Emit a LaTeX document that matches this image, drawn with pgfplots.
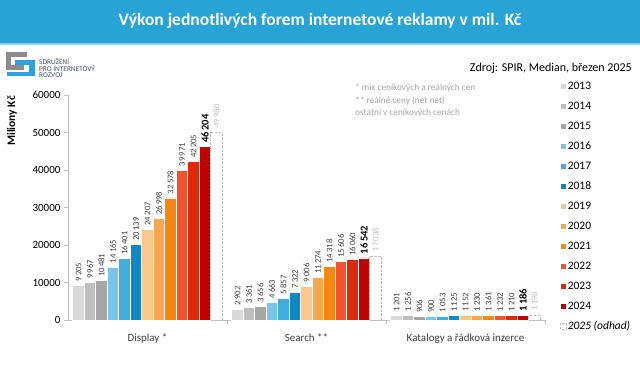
\documentclass[border=0pt]{standalone}
\usepackage{pgfplots}
\pgfplotsset{compat=1.18}
\usepackage{pgfplotstable}
\usepackage{fontspec}
\setmainfont{Carlito}
\definecolor{banner}{HTML}{27A3D6}
\definecolor{bannerlt}{HTML}{8FD0EE}
\definecolor{axgray}{HTML}{BFBFBF}
\definecolor{labgray}{HTML}{404040}
\definecolor{notegray}{HTML}{A6A6A6}
\definecolor{c13}{HTML}{D9D9D9}
\definecolor{c14}{HTML}{BFBFBF}
\definecolor{c15}{HTML}{A6A6A6}
\definecolor{c16}{HTML}{75C6EA}
\definecolor{c17}{HTML}{41ADDD}
\definecolor{c18}{HTML}{0E88C4}
\definecolor{c19}{HTML}{FBC78C}
\definecolor{c20}{HTML}{F9A64E}
\definecolor{c21}{HTML}{F7870F}
\definecolor{c22}{HTML}{F2532C}
\definecolor{c23}{HTML}{DC2A0A}
\definecolor{c24}{HTML}{BE0000}
\definecolor{logogray}{HTML}{8C8C8C}
\definecolor{logoblue}{HTML}{2EA3DB}
\definecolor{logotext}{HTML}{44546A}

\pgfplotstableread{
x a13 a14 a15 a16 a17 a18 a19 a20 a21 a22 a23 a24 a25
0 9205 9967 10481 14165 16401 20139 24207 26998 32578 39971 42205 46204 49980
1 2902 3361 3656 4663 5857 7322 9006 11274 14318 15606 16060 16542 17038
2 1201 1256 906 900 1053 1125 1152 1230 1361 1232 1210 1186 1198
}\data

\pgfplotsset{
  lab/.style={nodes near coords,
    every node near coord/.append style={rotate=90, anchor=west, xshift=2.5pt,
      font=\fontsize{8.6}{9}\selectfont, text=labgray, inner sep=1pt}},
  labc/.style={nodes near coords,
    every node near coord/.append style={rotate=90, anchor=west, xshift=2.5pt,
      font=\bfseries\fontsize{10.5}{11}\selectfont, text=black, inner sep=1pt}},
  labb/.style={nodes near coords,
    every node near coord/.append style={rotate=90, anchor=west, xshift=3.5pt,
      font=\fontsize{8.6}{9}\selectfont, text=axgray, inner sep=1pt}},
}

\begin{document}
\begin{tikzpicture}
\path[use as bounding box] (0pt,0pt) rectangle (640pt,-367pt);
\fill[white] (0pt,0pt) rectangle (640pt,-367pt);
\fill[banner] (0pt,0pt) rectangle (640pt,-43pt);
\fill[bannerlt] (0pt,-43pt) rectangle (640pt,-45pt);
\node[text=white, font=\bfseries\fontsize{17.5}{20}\selectfont] at (320pt,-21pt) {Výkon jednotlivých forem internetové reklamy v mil. Kč};
% logo
\fill[logogray] (6pt,-52pt) rectangle (27pt,-57pt);
\fill[logogray] (6pt,-52pt) rectangle (11pt,-70pt);
\fill[logogray] (6pt,-65pt) rectangle (24pt,-70pt);
\fill[logoblue] (15pt,-60pt) rectangle (35pt,-65pt);
\fill[logoblue] (29pt,-60pt) rectangle (35pt,-76pt);
\fill[logoblue] (7pt,-72pt) rectangle (35pt,-76pt);
\node[anchor=west, text=logotext, font=\fontsize{7.3}{8}\selectfont, inner sep=0pt] at (39pt,-61pt) {SDRUŽENÍ};
\node[anchor=west, text=logotext, font=\fontsize{7.3}{8}\selectfont, inner sep=0pt] at (39pt,-68pt) {PRO INTERNETOVÝ};
\node[anchor=west, text=logotext, font=\fontsize{7.3}{8}\selectfont, inner sep=0pt] at (39pt,-75pt) {ROZVOJ};
\node[anchor=east, font=\fontsize{12}{14}\selectfont, inner sep=0pt] at (632pt,-68pt) {Zdroj: SPIR, Median, březen 2025};
\node[anchor=west, text=notegray, font=\fontsize{9.3}{10}\selectfont, inner sep=0pt] at (355pt,-88pt) {* mix ceníkových a reálných cen};
\node[anchor=west, text=notegray, font=\fontsize{9.3}{10}\selectfont, inner sep=0pt] at (355pt,-100.5pt) {** reálné ceny (net net)};
\node[anchor=west, text=notegray, font=\fontsize{9.3}{10}\selectfont, inner sep=0pt] at (355pt,-113pt) {ostatní v ceníkových cenách};
\node[rotate=90, font=\bfseries\fontsize{11.5}{13}\selectfont] at (12pt,-121pt) {Miliony Kč};

\begin{axis}[
  at={(68pt,-320pt)}, anchor=south west,
  scale only axis, width=477pt, height=225pt,
  xmin=-0.5, xmax=2.5, ymin=0, ymax=60000,
  clip=false,
  ybar=0pt, bar width=11.5pt,
  axis x line*=bottom, axis y line*=left,
  axis line style={draw=axgray, -},
  ytick={0,10000,...,60000},
  scaled y ticks=false,
  tick align=outside,
  major tick length=4pt, minor tick length=4pt,
  every major y tick/.style={draw=axgray},
  every major x tick/.style={draw=none},
  every minor x tick/.style={draw=axgray},
  xtick={0,1,2},
  minor xtick={0.5,1.5,2.5},
  xticklabels={Display *, Search **, Katalogy a řádková inzerce},
  xticklabel style={font=\fontsize{11}{13}\selectfont, text=labgray, yshift=-6pt},
  yticklabel style={font=\fontsize{11}{13}\selectfont, text=black, /pgf/number format/1000 sep={}},
  /pgf/number format/assume math mode=true,
  /pgf/number format/1000 sep={\,},
  every axis plot/.append style={draw=white, line width=0.6pt},
  every axis plot post/.append style={legend image code/.code={\draw[##1] (0pt,-3pt) rectangle (6pt,3pt);}},
  legend style={draw=none, fill=none, at={(axis description cs:1.031,1.067)}, anchor=north west,
    font=\fontsize{11.5}{13}\selectfont, row sep=8pt, inner sep=0pt,
    nodes={inner sep=1pt, text height=8pt, text depth=2pt}},
  legend cell align=left,
]
\addplot[fill=c13, lab] table[x=x, y=a13] \data;
\addplot[fill=c14, lab] table[x=x, y=a14] \data;
\addplot[fill=c15, lab] table[x=x, y=a15] \data;
\addplot[fill=c16, lab] table[x=x, y=a16] \data;
\addplot[fill=c17, lab] table[x=x, y=a17] \data;
\addplot[fill=c18, lab] table[x=x, y=a18] \data;
\addplot[fill=c19, lab] table[x=x, y=a19] \data;
\addplot[fill=c20, lab] table[x=x, y=a20] \data;
\addplot[fill=c21, lab] table[x=x, y=a21] \data;
\addplot[fill=c22, lab] table[x=x, y=a22] \data;
\addplot[fill=c23, lab] table[x=x, y=a23] \data;
\addplot[fill=c24, labc] table[x=x, y=a24] \data;
\addplot[fill=white, draw=axgray, dash pattern=on 2.5pt off 1.5pt, line width=0.8pt, labb] table[x=x, y=a25] \data;
\legend{2013,2014,2015,2016,2017,2018,2019,2020,2021,2022,2023,2024,{\itshape 2025 (odhad)}}
\end{axis}
\end{tikzpicture}
\end{document}
